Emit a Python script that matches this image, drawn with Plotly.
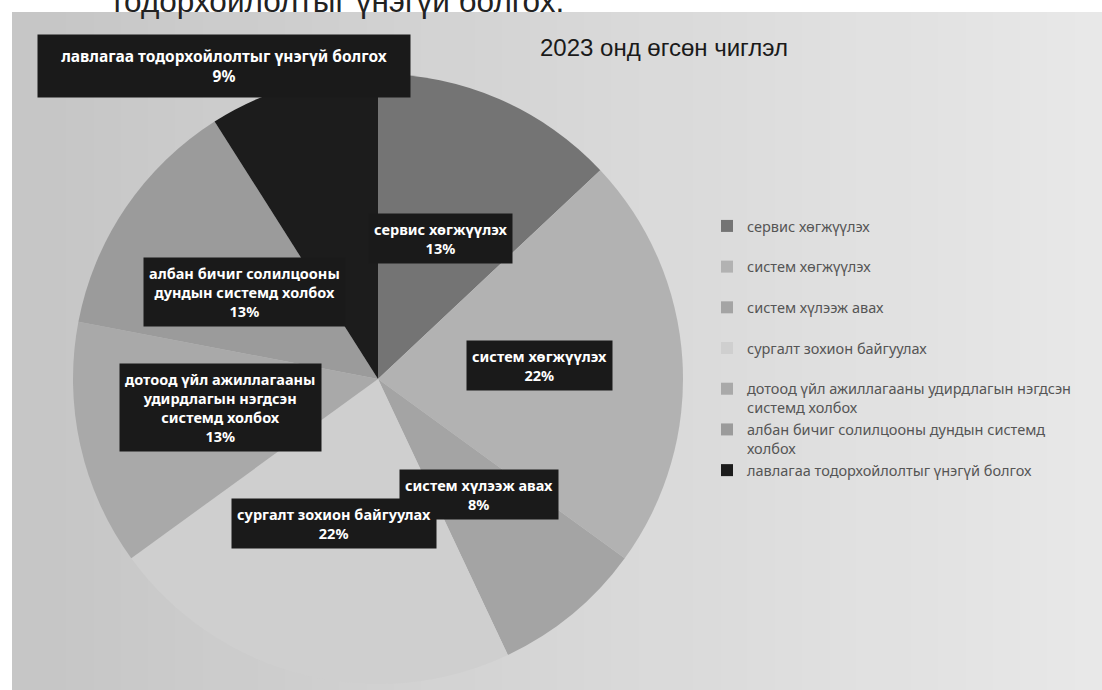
import math
import textwrap
import plotly.graph_objects as go

# ---- data ----
categories = [
    "сервис хөгжүүлэх",
    "систем хөгжүүлэх",
    "систем хүлээж авах",
    "сургалт зохион байгуулах",
    "дотоод үйл ажиллагааны удирдлагын нэгдсэн системд холбох",
    "албан бичиг солилцооны дундын системд холбох",
    "лавлагаа тодорхойлолтыг үнэгүй болгох",
]
percent_values = [13, 22, 8, 22, 13, 13, 9]
slice_colors = ["#747474", "#b2b2b2", "#a4a4a4", "#cfcfcf", "#a9a9a9", "#9b9b9b", "#1c1c1c"]

title_text = "2023 онд өгсөн чиглэл"
page_text = "тодорхойлолтыг үнэгүй болгох."

# ---- layout settings ----
W, H = 1102, 690
pie_domain_x = [52 / W, 704 / W]
pie_domain_y = [1 - 684 / H, 1 - 74 / H]
label_radius = [0.52, 0.53, 0.52, 0.51, 0.53, 0.53, 1.07]
label_xshift = [0, 0, 0, -5, 0, 0, -63]
label_yshift = [-5, 3, 7, 6, 7, -4, 0]
label_wrap = [25, 25, 25, 25, 25, 25, 45]
label_size = [14.5, 14.5, 14.5, 14.5, 14.5, 14.5, 15.5]
label_box_w = [None, None, None, None, None, None, 362]
label_box_h = [None, None, None, None, None, None, 52]

def legend_name(s):
    lines = textwrap.wrap(s, 41)
    if len(lines) == 1:
        lines.append("\u00a0")
    return "<br>".join(lines)

legend_labels = [legend_name(c) for c in categories]

fig = go.Figure()

# background gradient strips (decoration)
n_strips = 40
x0p = 12 / W
for i in range(n_strips):
    t = i / (n_strips - 1)
    g = int(198 + (232 - 198) * t)
    fig.add_shape(
        type="rect", xref="paper", yref="paper",
        x0=x0p + (1 - x0p) * i / n_strips, x1=x0p + (1 - x0p) * (i + 1) / n_strips + 0.001,
        y0=0, y1=1 - 12 / H,
        fillcolor=f"rgb({g},{g},{g})", line=dict(width=0), layer="below",
    )

fig.add_trace(go.Pie(
    labels=legend_labels,
    values=percent_values,
    sort=False,
    direction="clockwise",
    rotation=0,
    marker=dict(colors=slice_colors, line=dict(width=0)),
    textinfo="none",
    hovertemplate="%{label}: %{percent}<extra></extra>",
    domain=dict(x=pie_domain_x, y=pie_domain_y),
))

# data labels as boxed annotations, positioned from slice mid-angles
cx = (pie_domain_x[0] + pie_domain_x[1]) / 2 * W
cy = (1 - (pie_domain_y[0] + pie_domain_y[1]) / 2) * H
R = min((pie_domain_x[1] - pie_domain_x[0]) * W, (pie_domain_y[1] - pie_domain_y[0]) * H) / 2
total = sum(percent_values)
cum = 0
for i, (cat, v) in enumerate(zip(categories, percent_values)):
    mid = (cum + v / 2) / total * 2 * math.pi
    cum += v
    r = label_radius[i] * R
    px = cx + r * math.sin(mid)
    py = cy - r * math.cos(mid)
    txt = "<br>".join(textwrap.wrap(cat, label_wrap[i])) + f"<br>{round(v / total * 100)}%"
    fig.add_annotation(
        x=px / W, y=1 - py / H, xref="paper", yref="paper",
        xanchor="center", yanchor="middle",
        text=f"<b>{txt}</b>", showarrow=False, align="center", valign="middle",
        xshift=label_xshift[i], yshift=label_yshift[i],
        width=label_box_w[i], height=label_box_h[i],
        font=dict(family="Noto Sans", size=label_size[i], color="white"),
        bgcolor="#1a1a1a", borderpad=5,
    )

fig.add_annotation(
    x=664 / W, y=1 - 47 / H, xref="paper", yref="paper",
    xanchor="center", yanchor="middle",
    text=title_text, showarrow=False,
    font=dict(family="Liberation Sans", size=24, color="#1a1a1a"),
)
fig.add_annotation(
    x=108 / W, y=1, xref="paper", yref="paper", xanchor="left", yanchor="bottom",
    yshift=-21, text=page_text, showarrow=False,
    font=dict(family="Liberation Sans", size=31.5, color="#222222"),
)

fig.update_layout(
    width=W, height=H,
    margin=dict(l=0, r=0, t=0, b=0),
    paper_bgcolor="white",
    showlegend=True,
    legend=dict(
        x=707 / W, y=1 - 210 / H, xanchor="left", yanchor="top",
        valign="top", bgcolor="rgba(0,0,0,0)",
        font=dict(family="Noto Sans", size=14.5, color="#555555"),
        itemwidth=30,
    ),
)

fig.write_html(
    "out.html",
    config={"displayModeBar": False},
    post_script="document.body.style.margin='0';",
)
